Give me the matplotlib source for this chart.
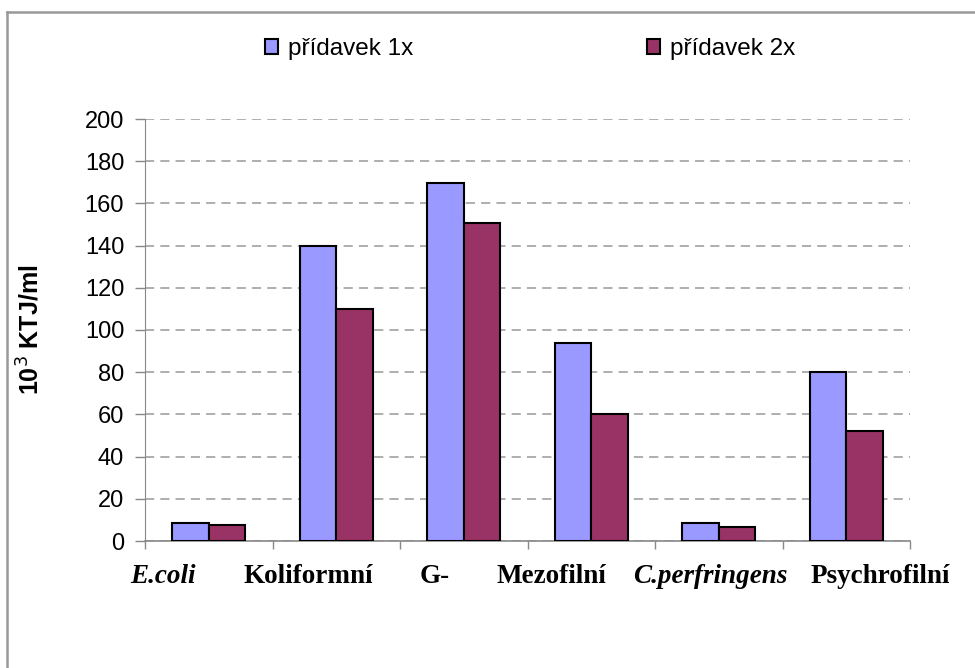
import matplotlib.pyplot as plt
import numpy as np
from matplotlib.lines import Line2D

# data
categories = ['E.coli', 'Koliformní', 'G-', 'Mezofilní', 'C.perfringens', 'Psychrofilní']
italic_cats = ['E.coli', 'C.perfringens']
pridavek_1x = [8.5, 140, 169.5, 94, 8.5, 80]
pridavek_2x = [7.5, 110, 150.5, 60, 6.5, 52]
series_names = ['přídavek 1x', 'přídavek 2x']
y_ticks = list(range(0, 201, 20))

# posun popisků kategorií vůči středu skupiny (v jednotkách osy x)
label_shift = [-0.36, -0.22, -0.225, -0.31, -0.07, 0.265]

fig = plt.figure(figsize=(9.75, 6.68), dpi=100)
ax = fig.add_axes([145 / 975, 1 - 541 / 668, (910 - 145) / 975, (541 - 119) / 668])

x = np.arange(len(categories))
w = 0.286
b1 = ax.bar(x - w / 2, pridavek_1x, w, color='#9999FF', edgecolor='black', linewidth=1.5,
            label=series_names[0], zorder=3)
b2 = ax.bar(x + w / 2, pridavek_2x, w, color='#993366', edgecolor='black', linewidth=1.5,
            label=series_names[1], zorder=3)

ax.set_xlim(-0.5, len(categories) - 0.5)
ax.set_ylim(0, 200)
ax.set_yticks(y_ticks)
ax.set_yticklabels([str(t) for t in y_ticks], fontsize=17, family='Liberation Sans')
ax.tick_params(axis='y', length=7, color='#888888', width=1, pad=8)

# category ticks at group boundaries
ax.set_xticks(np.arange(-0.5, len(categories), 1.0))
ax.set_xticklabels([])
ax.tick_params(axis='x', length=6, color='#888888', width=1, direction='out')
for i, cat in enumerate(categories):
    ax.text(i + label_shift[i], -20, cat, ha='center', va='baseline', fontsize=19.5,
            family='Liberation Serif', fontweight='bold',
            fontstyle='italic' if cat in italic_cats else 'normal')

ax.yaxis.grid(True, linestyle=(0, (6, 4)), color='#999999', linewidth=1.1, zorder=0)
for s in ['top', 'right']:
    ax.spines[s].set_visible(False)
ax.spines['left'].set_color('#888888')
ax.spines['bottom'].set_color('#888888')
ax.spines['bottom'].set_linewidth(1.2)

ax.set_ylabel('10$^3$ KTJ/ml', fontsize=18, fontweight='bold', family='Liberation Sans')
ax.yaxis.set_label_coords(-(145 - 44) / 765, 0.5)

fig.legend(handles=[b1, b2], labels=series_names, loc='center',
           bbox_to_anchor=(530 / 975, 1 - 49 / 668), ncol=2, frameon=False,
           handlelength=0.55, handleheight=0.55, handletextpad=0.4, columnspacing=9.6,
           prop={'family': 'Liberation Sans', 'size': 17.5})

# rámeček (jen horní a levá čára)
fig.add_artist(Line2D([7 / 975, 1.0], [1 - 12 / 668, 1 - 12 / 668], transform=fig.transFigure,
                      color='#999999', linewidth=1.8))
fig.add_artist(Line2D([7 / 975, 7 / 975], [0, 1 - 12 / 668], transform=fig.transFigure,
                      color='#999999', linewidth=1.8))

fig.savefig('out.png', dpi=100)
